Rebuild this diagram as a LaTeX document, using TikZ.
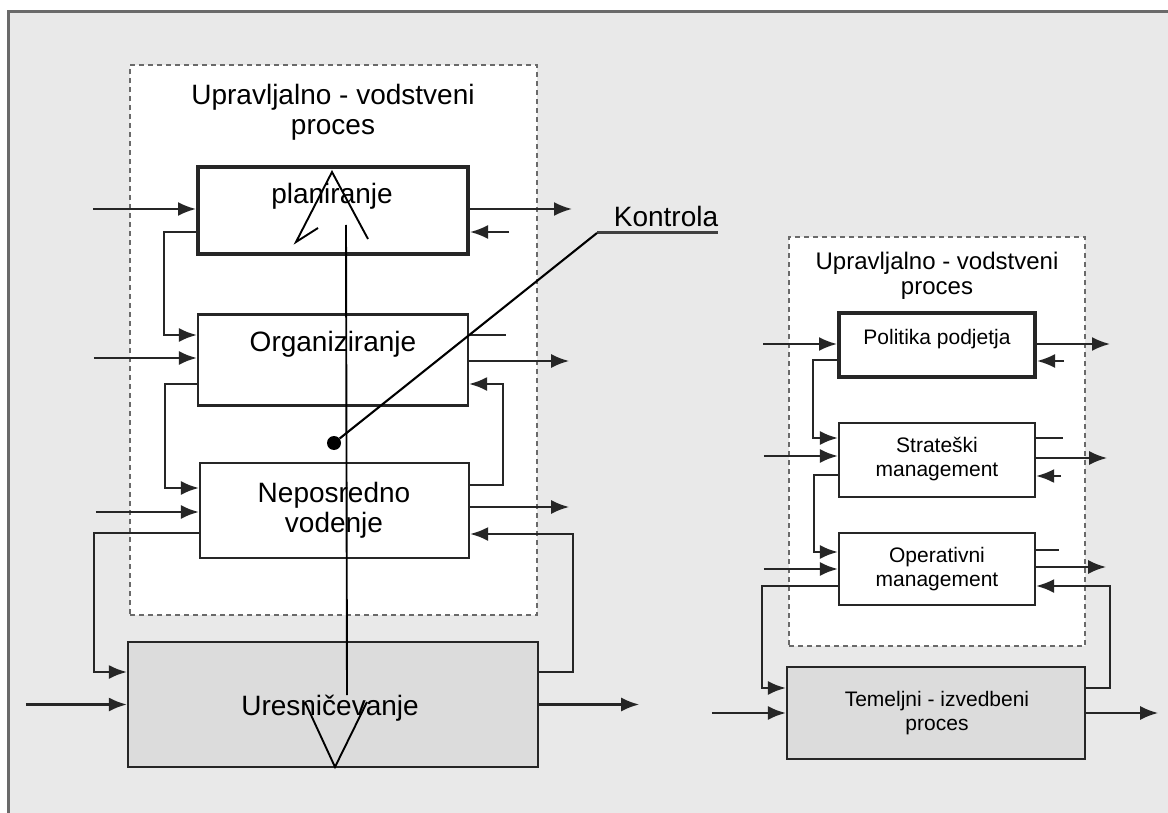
\documentclass[tikz,border=0pt]{standalone}
\usepackage{fontspec}
\setmainfont{Liberation Sans}
\usetikzlibrary{arrows.meta}
\definecolor{pozadina}{HTML}{E9E9E9}
\definecolor{sivo}{HTML}{DCDCDC}
\definecolor{rub}{HTML}{6A6A6A}
\newcommand\velik{\fontsize{28}{30}\selectfont}
\newcommand\srednji{\fontsize{24}{25}\selectfont}
\newcommand\mali{\fontsize{21}{24}\selectfont}
\tikzset{
  okvir/.style={draw=rub, dashed, dash pattern=on 5pt off 4pt, line width=1.8pt, fill=white, inner sep=0pt},
  blok/.style={draw=black!85, line width=2.3pt, fill=white, inner sep=0pt},
  debeli/.style={blok, line width=4pt},
  tekst/.style={inner sep=0pt, align=center},
  vez/.style={line width=2.2pt, black!85, -{Latex[length=18pt,width=14pt]}},
  crta/.style={line width=2.2pt, black!85}
}
\begin{document}
\begin{tikzpicture}[x=1pt,y=-1pt]
	\useasboundingbox (0,0) rectangle (1168,813);
	\fill[white] (0,0) rectangle (1168,813);
	\fill[pozadina] (8,12) rectangle (1168,813);
	\draw[line width=3pt, rub] (8,813) -- (8,12) -- (1168,12);
	% lijevi dio
	\node[okvir, minimum width=407pt, minimum height=550pt] (okvir1) at (333.5,340) {};
	\node[tekst, font=\velik] (nasl1) at (333,112) {Upravljalno - vodstveni\\proces};
	\node[debeli, minimum width=270pt, minimum height=87pt] (plan) at (333,211) {};
	\node[blok, minimum width=270pt, minimum height=91pt] (org) at (333,360) {};
	\node[blok, minimum width=269pt, minimum height=95pt] (vod) at (334.5,510.5) {};
	\node[blok, fill=sivo, minimum width=410pt, minimum height=125pt] (ures) at (333,704.5) {};
	\node[tekst, font=\velik, anchor=base] (plan-t) at (332,204) {planiranje};
	\node[tekst, font=\velik, anchor=base] (org-t) at (333,352) {Organiziranje};
	\node[tekst, font=\velik] (vod-t) at (334,510) {Neposredno\\vodenje};
	\node[tekst, font=\velik, anchor=base] (ures-t) at (330,715) {Uresničevanje};
	% ulazi i izlazi
	\draw[vez] ([yshift=2pt]plan.west) ++(-103,0) -- ([yshift=2pt]plan.west);
	\draw[vez] ([yshift=2pt]plan.east) -- ++(102,0);
	\draw[vez] ([yshift=-21pt]plan.east) ++(39,0) -- ([yshift=-21pt]plan.east);
	\draw[vez] ([yshift=-21pt]plan.west) -- ++(-32,0) |- ([yshift=25pt]org.west);
	\draw[vez] ([yshift=2pt]org.west) ++(-103,0) -- ([yshift=2pt]org.west);
	\draw[crta] ([yshift=25pt]org.east) -- ++(37,0);
	\draw[vez] ([yshift=-1pt]org.east) -- ++(100,0);
	\draw[vez] ([yshift=-24pt]org.west) -- ++(-32,0) |- ([yshift=22.5pt]vod.west);
	\draw[vez] ([yshift=25.5pt]vod.east) -- ++(33,0) |- ([yshift=-24pt]org.east);
	\draw[vez] ([yshift=-1.5pt]vod.west) ++(-103,0) -- ([yshift=-1.5pt]vod.west);
	\draw[vez] ([yshift=3.5pt]vod.east) -- ++(99,0);
	\draw[vez] ([yshift=32.5pt]ures.east) -- ++(34,0) |- ([yshift=-23.5pt]vod.east);
	\draw[vez] ([yshift=-22.5pt]vod.west) -- ++(-105,0) |- ([yshift=32.5pt]ures.west);
	\draw[vez] (ures.west) ++(-101,0) -- (ures.west);
	\draw[vez] (ures.east) -- ++(100,0);
	% kontrola
	\coordinate (kvrh) at (346,225);
	\coordinate (kdno) at (347,695);
	\draw[line width=1.9pt] (kvrh) -- (kdno);
	\draw[line width=1.9pt] (318,228) -- (296,242) -- (332,172) -- (368,239);
	\draw[line width=1.9pt] (305,702) -- (335,767) -- (367,702);
	\node[tekst, font=\velik, anchor=base] (knt) at (666,227) {Kontrola};
	\coordinate (kont) at (597,233);
	\node[circle, fill=black, inner sep=0pt, minimum size=14pt] (pika) at (334,443) {};
	\draw[line width=3pt, black!75] (kont) -- (kont -| knt.east);
	\draw[line width=2.1pt] (kont) -- (pika);
	% desni dio
	\node[okvir, minimum width=296pt, minimum height=409pt] (okvir2) at (937,441.5) {};
	\node[tekst, font=\srednji] (nasl2) at (937,276) {Upravljalno - vodstveni\\proces};
	\node[debeli, minimum width=196pt, minimum height=64pt] (pol) at (937,345) {};
	\node[blok, minimum width=196pt, minimum height=74pt] (str) at (937,460) {};
	\node[blok, minimum width=196pt, minimum height=72pt] (ope) at (937,569) {};
	\node[blok, fill=sivo, minimum width=298pt, minimum height=92pt] (tem) at (936,713) {};
	\node[tekst, font=\mali, anchor=base] (pol-t) at (937,344) {Politika podjetja};
	\node[tekst, font=\mali] (str-t) at (937,459.5) {Strateški\\management};
	\node[tekst, font=\mali] (ope-t) at (937,569.5) {Operativni\\management};
	\node[tekst, font=\mali] (tem-t) at (937,713) {Temeljni - izvedbeni\\proces};
	\draw[vez] ([yshift=1pt]pol.west) ++(-74,0) -- ([yshift=1pt]pol.west);
	\draw[vez] ([yshift=1pt]pol.east) -- ++(73,0);
	\draw[vez] ([yshift=-16pt]pol.east) ++(27,0) -- ([yshift=-16pt]pol.east);
	\draw[vez] ([yshift=-15pt]pol.west) -- ++(-24,0) |- ([yshift=22pt]str.west);
	\draw[vez] ([yshift=4pt]str.west) ++(-74,0) -- ([yshift=4pt]str.west);
	\draw[crta] ([yshift=22pt]str.east) -- ++(27,0);
	\draw[vez] ([yshift=2pt]str.east) -- ++(71,0);
	\draw[vez] ([yshift=-16pt]str.east) ++(25,0) -- ([yshift=-16pt]str.east);
	\draw[vez] ([yshift=-15pt]str.west) -- ++(-24,0) |- ([yshift=17pt]ope.west);
	\draw[vez] (ope.west) ++(-74,0) -- (ope.west);
	\draw[crta] ([yshift=19pt]ope.east) -- ++(23,0);
	\draw[vez] ([yshift=2pt]ope.east) -- ++(70,0);
	\draw[vez] ([yshift=25pt]tem.east) -- ++(24,0) |- ([yshift=-17pt]ope.east);
	\draw[vez] ([yshift=-17pt]ope.west) -- ++(-76,0) |- ([yshift=25pt]tem.west);
	\draw[vez] (tem.west) ++(-74,0) -- (tem.west);
	\draw[vez] (tem.east) -- ++(72,0);
\end{tikzpicture}
\end{document}
